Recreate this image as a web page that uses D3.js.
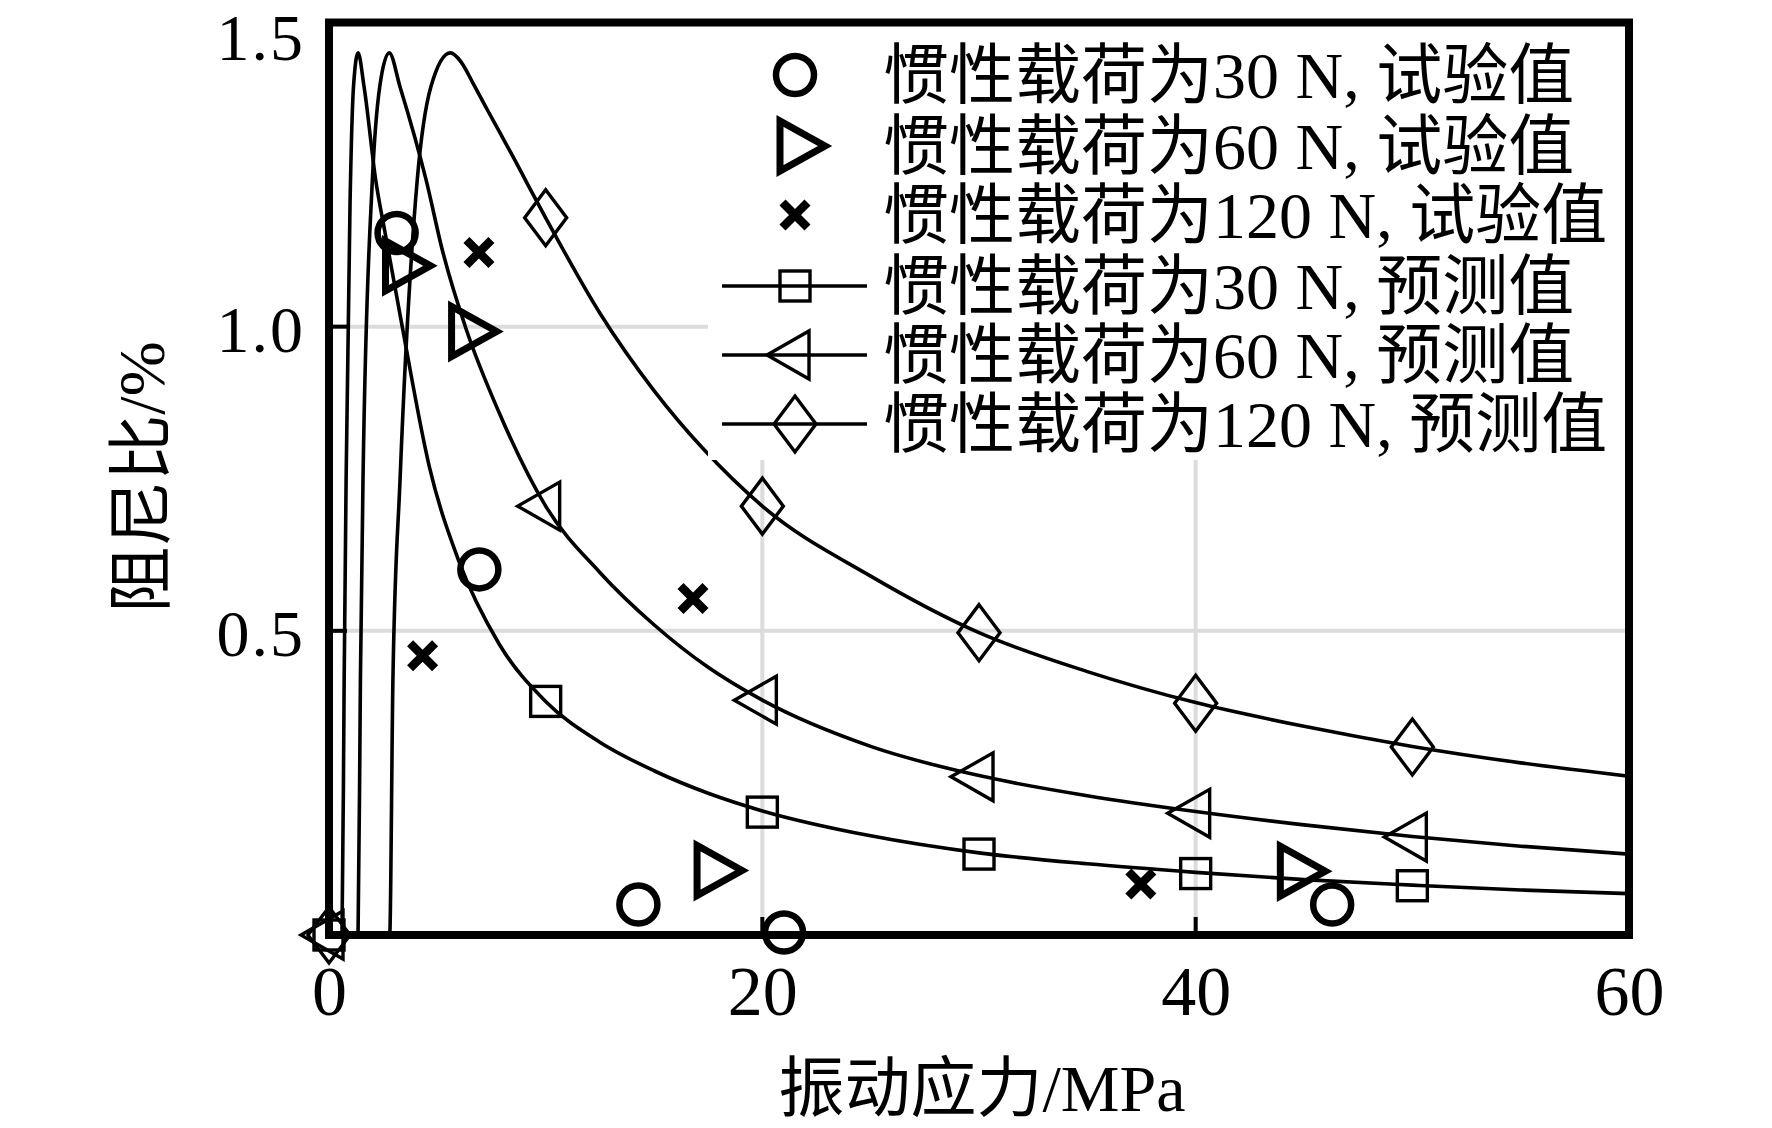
<!DOCTYPE html>
<html><head><meta charset="utf-8">
<script src="https://cdn.jsdelivr.net/npm/d3@7"></script>
<style>
html,body{margin:0;padding:0;background:#fff;}
svg{display:block;}
</style></head>
<body>
<svg id="chart" width="1772" height="1128"></svg>
<script>
// ---- data ----
const xTicks = [0, 20, 40, 60];
const yTicks = [0.5, 1.0, 1.5];
const yTickLabels = ["0.5", "1.0", "1.5"];
const gridX = [20, 40];
const gridY = [0.5, 1.0];

// prediction curves [x, y]
const pred30 = [[0,0],[0.6,0],[0.7,0.42],[0.79,0.75],[0.97,1.2],[1.13,1.394],[1.34,1.45],[1.62,1.394],[2.16,1.24],[2.59,1.154],[3.38,1.0],[4.63,0.77],[6.0,0.614],[7.86,0.478],[10,0.384],[12.5,0.317],[15,0.27],[17.5,0.233],[20,0.204],[25,0.163],[30,0.135],[35,0.117],[40,0.103],[45,0.091],[50,0.082],[55,0.074],[60,0.068]];
const pred60 = [[0,0],[1.34,0],[1.45,0.42],[1.57,0.75],[2.0,1.24],[2.34,1.394],[2.78,1.45],[3.28,1.394],[4.49,1.24],[5.23,1.126],[6.34,0.995],[7.86,0.858],[10,0.705],[12.5,0.596],[15,0.51],[17.5,0.44],[20,0.386],[25,0.31],[30,0.262],[35,0.229],[40,0.203],[45,0.181],[50,0.162],[55,0.146],[60,0.133]];
const pred120 = [[0,0],[2.8,0],[2.95,0.42],[3.28,0.749],[4.07,1.24],[4.7,1.394],[5.6,1.45],[6.1,1.435],[6.65,1.4],[7.3,1.357],[7.9,1.318],[8.5,1.279],[9.2,1.232],[10,1.179],[12.49,1.023],[15,0.895],[17.25,0.8],[20,0.705],[25,0.59],[30,0.497],[35,0.433],[40,0.382],[45,0.343],[50,0.31],[55,0.283],[60,0.261]];

// prediction markers
const markX = [0, 10, 20, 30, 40, 50];
const mark30 = [0, 0.384, 0.202, 0.133, 0.101, 0.081];
const mark60 = [0, 0.705, 0.386, 0.26, 0.2, 0.161];
const mark120 = [0, 1.179, 0.705, 0.497, 0.381, 0.309];

// experimental values
const exp30 = [[3.12,1.154],[6.94,0.601],[14.28,0.05],[21.0,0.004],[46.3,0.05]];
const exp60 = [[3.3,1.1],[6.35,0.992],[17.68,0.106],[44.6,0.105]];
const exp120 = [[6.92,1.122],[4.32,0.459],[16.8,0.553],[37.47,0.084]];

const legendLabels = [
  "惯性载荷为30 N, 试验值",
  "惯性载荷为60 N, 试验值",
  "惯性载荷为120 N, 试验值",
  "惯性载荷为30 N, 预测值",
  "惯性载荷为60 N, 预测值",
  "惯性载荷为120 N, 预测值"
];
const xTitle = "振动应力/MPa";
const yTitle = "阻尼比/%";

// ---- drawing ----
const svg = d3.select("#chart");
const FONT = "'Liberation Serif','Noto Sans CJK SC',serif";
const x = d3.scaleLinear().domain([0, 60]).range([329, 1629]);
const y = d3.scaleLinear().domain([0, 1.5]).range([935, 22.5]);

svg.append("defs").append("clipPath").attr("id","plotclip")
  .append("rect").attr("x", x(0)).attr("y", y(1.5)).attr("width", x(60)-x(0)).attr("height", y(0)-y(1.5));

// grid
const grid = svg.append("g");
grid.selectAll("line.gx").data(gridX).join("line")
  .attr("x1", d => x(d)).attr("x2", d => x(d)).attr("y1", y(0)).attr("y2", y(1.5))
  .attr("stroke", "#dcdcdc").attr("stroke-width", 4);
grid.selectAll("line.gy").data(gridY).join("line")
  .attr("y1", d => y(d)).attr("y2", d => y(d)).attr("x1", x(0)).attr("x2", x(60))
  .attr("stroke", "#dcdcdc").attr("stroke-width", 4);

// curves
const line = d3.line().x(d => x(d[0])).y(d => y(d[1])).curve(d3.curveMonotoneX);
const plot = svg.append("g").attr("clip-path", "url(#plotclip)");
[pred30, pred60, pred120].forEach(s => {
  plot.append("path").attr("d", line(s)).attr("fill", "none")
    .attr("stroke", "#000").attr("stroke-width", 3.6);
});

// marker symbol generators
function square(g) { g.append("rect").attr("x",-15).attr("y",-15).attr("width",30).attr("height",30)
  .attr("fill","none").attr("stroke","#000").attr("stroke-width",3.4); }
function leftTri(g) { g.append("path").attr("d","M-28,0L14,-24L14,24Z")
  .attr("fill","none").attr("stroke","#000").attr("stroke-width",3.4); }
function diamond(g) { g.append("path").attr("d","M0,-28L21,0L0,28L-21,0Z")
  .attr("fill","none").attr("stroke","#000").attr("stroke-width",3.4); }
function circle(g) { g.append("circle").attr("r",19)
  .attr("fill","none").attr("stroke","#000").attr("stroke-width",6.5); }
function rightTri(g) { g.append("path").attr("d","M-15,-25L-15,25L30,0Z")
  .attr("fill","none").attr("stroke","#000").attr("stroke-width",7).attr("stroke-linejoin","miter"); }
function cross(g) { g.append("path").attr("d","M-12.5,-12.5L12.5,12.5M-12.5,12.5L12.5,-12.5")
  .attr("fill","none").attr("stroke","#000").attr("stroke-width",8.5); }

const mk = svg.append("g");
function placeMarkers(xs, ys, fn) {
  xs.forEach((xv, i) => { fn(mk.append("g").attr("transform", `translate(${x(xv)},${y(ys[i])})`)); });
}
placeMarkers(markX, mark30, square);
placeMarkers(markX, mark60, leftTri);
placeMarkers(markX, mark120, diamond);
function placePairs(arr, fn) {
  arr.forEach(d => { fn(mk.append("g").attr("transform", `translate(${x(d[0])},${y(d[1])})`)); });
}
placePairs(exp30, circle);
placePairs(exp60, rightTri);
placePairs(exp120, cross);

// legend
const lg = svg.append("g");
lg.append("rect").attr("x", 708).attr("y", y(1.5)).attr("width", x(60)-708).attr("height", 460 - y(1.5)).attr("fill", "#fff");
const rowY = [75, 146, 215, 286, 355, 424];
const legSyms = [circle, rightTri, cross, square, leftTri, diamond];
legendLabels.forEach((t, i) => {
  const g = lg.append("g").attr("transform", `translate(0,${rowY[i]})`);
  if (i >= 3) g.append("line").attr("x1", 722).attr("x2", 867).attr("y1", 0).attr("y2", 0)
    .attr("stroke", "#000").attr("stroke-width", 3.4);
  const s = g.append("g").attr("transform", "translate(795,0)");
  legSyms[i](s);
  g.append("text").attr("x", 883).attr("y", 23).attr("font-family", FONT).attr("font-size", 66)
    .attr("fill", "#000").text(t);
});

// frame
svg.append("rect").attr("x", x(0)).attr("y", y(1.5)).attr("width", x(60)-x(0)).attr("height", y(0)-y(1.5))
  .attr("fill", "none").attr("stroke", "#000").attr("stroke-width", 8);

// axes via d3
const xAxis = d3.axisBottom(x).tickValues(xTicks).tickSize(0).tickPadding(0).tickFormat(d3.format("d"));
const gx = svg.append("g").attr("transform", `translate(0,${y(0)})`).call(xAxis);
gx.select(".domain").remove();
gx.selectAll("text").attr("font-family", FONT).attr("font-size", 70).attr("fill", "#000")
  .attr("dy", null).attr("y", 80);
const yAxis = d3.axisLeft(y).tickValues(yTicks).tickSize(0).tickPadding(0).tickFormat((d, i) => yTickLabels[i]);
const gy = svg.append("g").attr("transform", `translate(${x(0)},0)`).call(yAxis);
gy.select(".domain").remove();
gy.selectAll("text").attr("font-family", FONT).attr("font-size", 66).attr("fill", "#000")
  .attr("dy", null).attr("x", -24).attr("y", d => d === 1.5 ? 37 : 25).attr("letter-spacing", 2);

// inward tick marks
svg.append("g").selectAll("line").data([0.5, 1.0]).join("line")
  .attr("x1", x(0)).attr("x2", x(0) + 18).attr("y1", d => y(d)).attr("y2", d => y(d))
  .attr("stroke", "#000").attr("stroke-width", 4);
svg.append("g").selectAll("line").data([20, 40]).join("line")
  .attr("x1", d => x(d)).attr("x2", d => x(d)).attr("y1", y(0)).attr("y2", y(0) - 18)
  .attr("stroke", "#000").attr("stroke-width", 4);

// axis titles
svg.append("text").attr("x", 982).attr("y", 1111).attr("text-anchor", "middle")
  .attr("font-family", FONT).attr("font-size", 66).attr("fill", "#000").text(xTitle);
svg.append("text").attr("transform", "translate(141,477) rotate(-90)").attr("text-anchor", "middle")
  .attr("dominant-baseline", "central")
  .attr("font-family", FONT).attr("font-size", 66).attr("fill", "#000").text(yTitle);
</script>
</body></html>
